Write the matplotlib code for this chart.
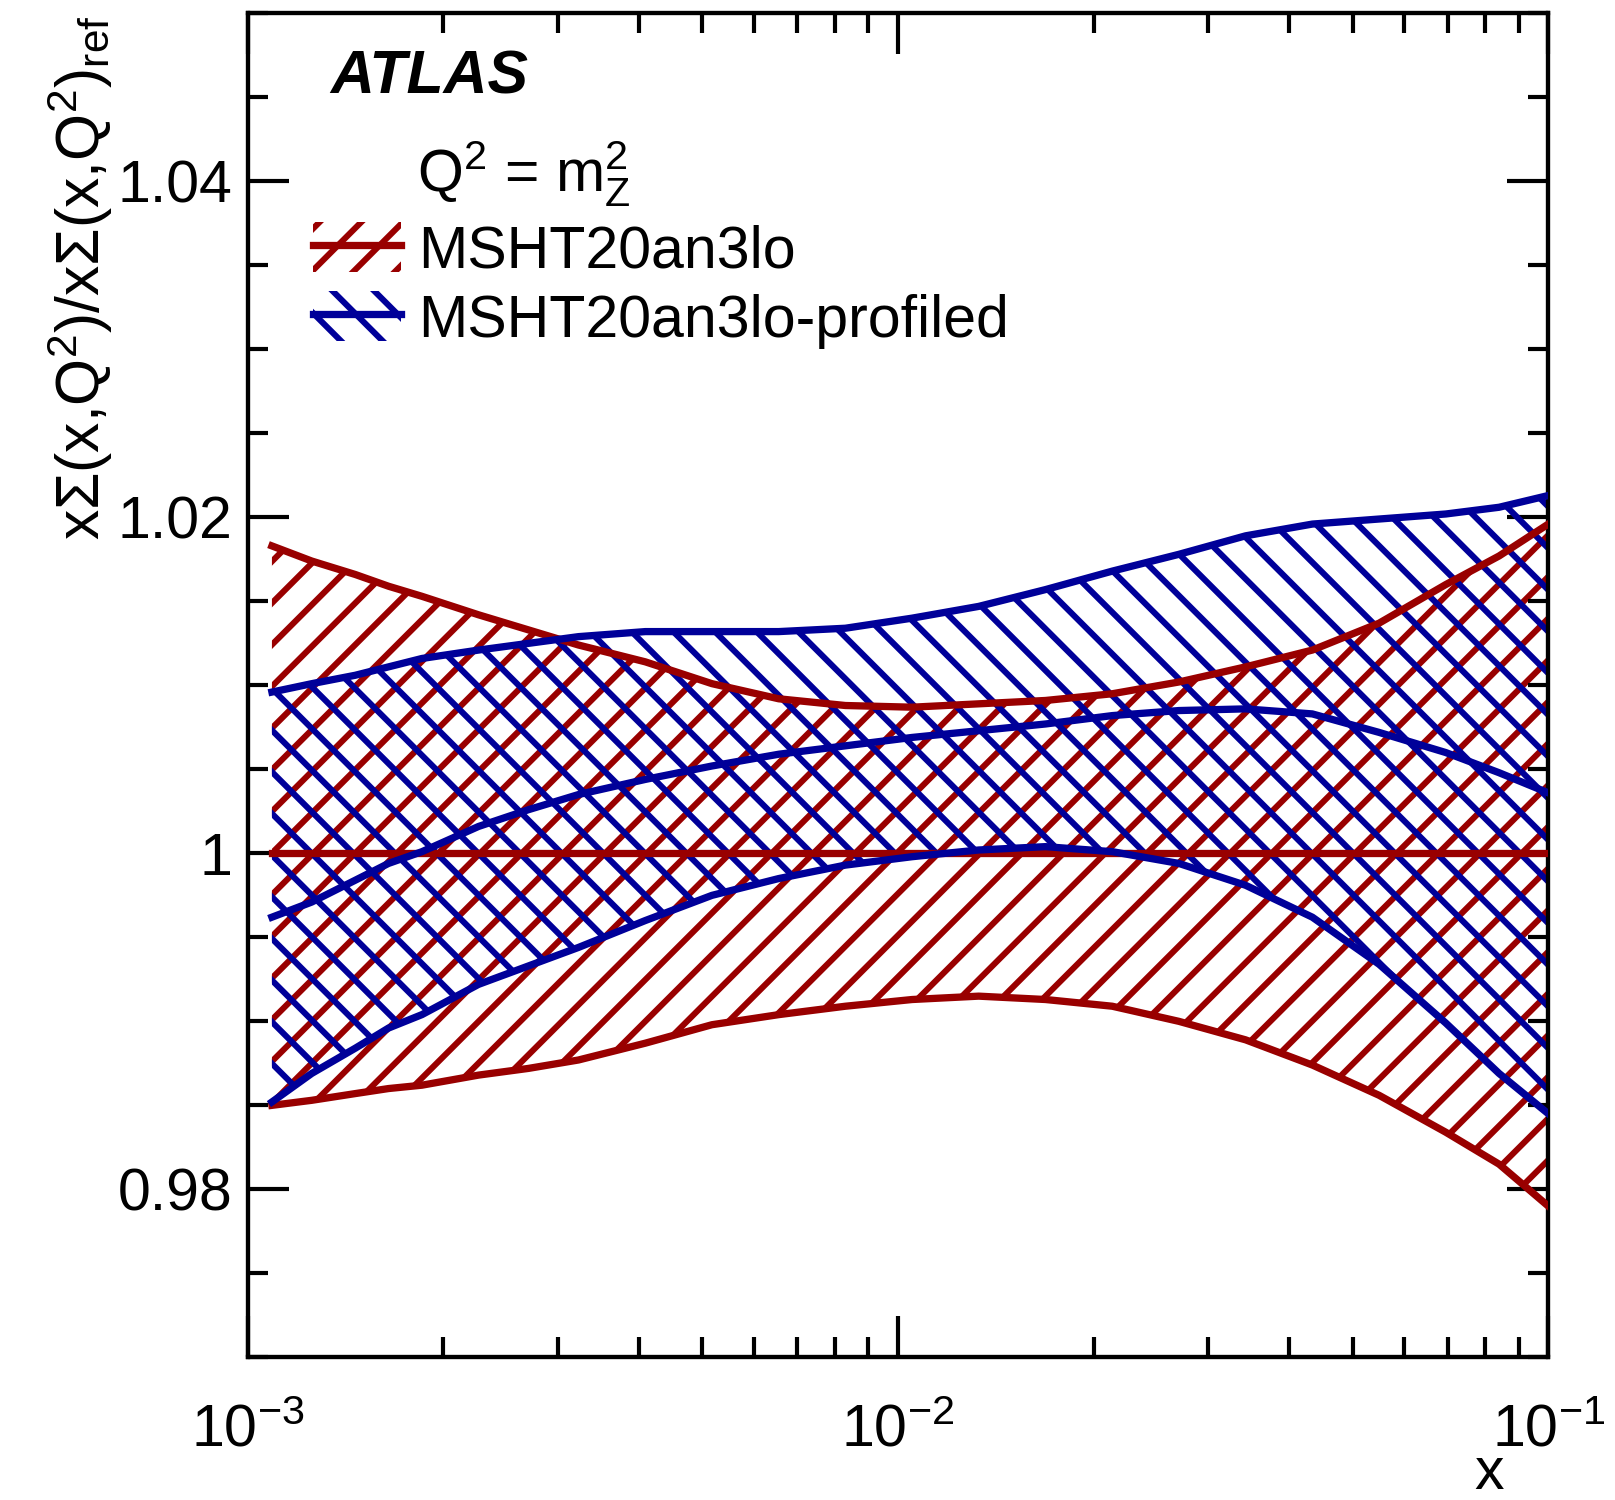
import matplotlib
matplotlib.use('Agg')
import matplotlib.pyplot as plt
import numpy as np
from matplotlib.patches import Patch
from matplotlib.lines import Line2D
from matplotlib.ticker import MultipleLocator, LogLocator, FuncFormatter, NullFormatter

plt.rcParams['font.family'] = ['Liberation Sans', 'DejaVu Sans']
plt.rcParams['mathtext.fontset'] = 'custom'
plt.rcParams['mathtext.rm'] = 'Liberation Sans'
plt.rcParams['mathtext.it'] = 'Liberation Sans:italic'
plt.rcParams['mathtext.bf'] = 'Liberation Sans:bold'
plt.rcParams['axes.unicode_minus'] = False
plt.rcParams['hatch.linewidth'] = 3.5

# x grid and ratio bands (reference PDF set and profiled set)
x = [0.00109, 0.001255, 0.001464, 0.001647, 0.001854, 0.002265, 0.002704, 0.003227,
     0.004088, 0.005177, 0.006557, 0.008302, 0.010515, 0.01331, 0.01686, 0.02136,
     0.02704, 0.03424, 0.04337, 0.05492, 0.06956, 0.0840, 0.1]

msht_up = [1.0183, 1.0174, 1.0166, 1.0159, 1.0153, 1.0142, 1.0133, 1.0124, 1.0114, 1.0101,
           1.0092, 1.0088, 1.0087, 1.0089, 1.0091, 1.0095, 1.0102, 1.0111, 1.0121, 1.0137,
           1.0160, 1.0177, 1.0196]
msht_dn = [0.9850, 0.9853, 0.9857, 0.9860, 0.9862, 0.9868, 0.9872, 0.9877, 0.9887, 0.9898,
           0.9904, 0.9909, 0.9913, 0.9915, 0.9913, 0.9909, 0.9900, 0.9889, 0.9874, 0.9856,
           0.9834, 0.9815, 0.9790]
msht_nom = [1.0, 1.0, 1.0, 1.0, 1.0, 1.0, 1.0, 1.0, 1.0, 1.0, 1.0, 1.0, 1.0, 1.0, 1.0, 1.0,
            1.0, 1.0, 1.0, 1.0, 1.0, 1.0, 1.0]

prof_up = [1.0096, 1.0101, 1.0106, 1.0111, 1.0116, 1.0121, 1.0125, 1.0129, 1.0132, 1.0132,
           1.0132, 1.0134, 1.0140, 1.0147, 1.0157, 1.0168, 1.0178, 1.0189, 1.0196, 1.0199,
           1.0202, 1.0206, 1.0213]
prof_nom = [0.9962, 0.9971, 0.9984, 0.9994, 1.0001, 1.0016, 1.0026, 1.0035, 1.0044, 1.0052,
            1.0059, 1.0064, 1.0069, 1.0073, 1.0077, 1.0082, 1.0085, 1.0086, 1.0083, 1.0072,
            1.0060, 1.0048, 1.0036]
prof_dn = [0.9852, 0.9869, 0.9884, 0.9896, 0.9904, 0.9922, 0.9933, 0.9944, 0.9960, 0.9975,
           0.9985, 0.9993, 0.9998, 1.0002, 1.0004, 1.0001, 0.9994, 0.9981, 0.9962, 0.9934,
           0.9899, 0.9869, 0.9845]

RED = '#990000'
BLUE = '#000099'
LW = 4.2
FS = 34
DPI = 125   # hatch tile is one inch, so this sets the hatch spacing

fig = plt.figure(figsize=(1615 / DPI, 1500 / DPI), dpi=DPI)
ax = fig.add_axes([0.1533, 0.0951, 0.8054, 0.896])
ax.set_xscale('log')
ax.set_xlim(1e-3, 1e-1)
ax.set_ylim(0.97, 1.05)

# hatched bands
ax.fill_between(x, msht_dn, msht_up, facecolor='none', edgecolor=RED,
                hatch='/', linewidth=0, zorder=1)
ax.fill_between(x, prof_dn, prof_up, facecolor='none', edgecolor=BLUE,
                hatch='\\', linewidth=0, zorder=2)

for yy in (msht_up, msht_dn, msht_nom):
    ax.plot(x, yy, color=RED, lw=LW, zorder=3)
for yy in (prof_up, prof_nom, prof_dn):
    ax.plot(x, yy, color=BLUE, lw=LW, zorder=4)

# ROOT-like axes
for sp in ax.spines.values():
    sp.set_linewidth(2.5)
ax.yaxis.set_major_locator(MultipleLocator(0.02))
ax.yaxis.set_minor_locator(MultipleLocator(0.005))
ax.yaxis.set_major_formatter(FuncFormatter(lambda v, p: f'{v:g}'))
ax.xaxis.set_major_locator(LogLocator(base=10, numticks=10))
ax.xaxis.set_minor_locator(LogLocator(base=10, subs=np.arange(2, 10), numticks=20))
ax.xaxis.set_minor_formatter(NullFormatter())
ax.tick_params(which='both', direction='in', top=True, right=True, width=2.4,
               labelsize=FS)
ax.tick_params(which='major', length=23.5)
ax.tick_params(which='minor', length=11.5)
ax.tick_params(axis='y', which='major', pad=8.6)
ax.tick_params(axis='x', which='major', pad=26.5)

ax.set_xlabel('x', fontsize=FS, loc='right')
ax.xaxis.set_label_coords(0.966, -0.098)
ax.xaxis.label.set_va('baseline')

ax.set_ylabel(r'$\mathrm{x\Sigma(x{,}Q^{2})/x\Sigma(x{,}Q^{2})_{ref}}$', fontsize=FS * 1.025,
              loc='top')
ax.yaxis.set_label_coords(-0.1134, 0.9987)
ax.yaxis.label.set_va('baseline')

# labels
ax.text(0.0634, 0.9403, 'ATLAS', transform=ax.transAxes, fontsize=35,
        fontweight='bold', fontstyle='italic', va='baseline')
ax.text(0.1303, 0.8678, r'$\mathrm{Q^{2}}$ = $\mathrm{m^{2}_{Z}}$', transform=ax.transAxes,
        fontsize=FS, va='baseline')

h_red = (Patch(facecolor='none', edgecolor=RED, hatch='/', linewidth=0),
         Line2D([], [], color=RED, lw=LW))
h_blue = (Patch(facecolor='none', edgecolor=BLUE, hatch='\\', linewidth=0),
          Line2D([], [], color=BLUE, lw=LW))
ax.legend([h_red, h_blue], ['MSHT20an3lo', 'MSHT20an3lo-profiled'],
          loc='upper left', bbox_to_anchor=(0.05, 0.8445), frameon=False,
          fontsize=FS, handlelength=1.49, handleheight=0.92, handletextpad=0.30,
          labelspacing=0.2, borderpad=0, borderaxespad=0)

fig.savefig('out.png', dpi=DPI)
